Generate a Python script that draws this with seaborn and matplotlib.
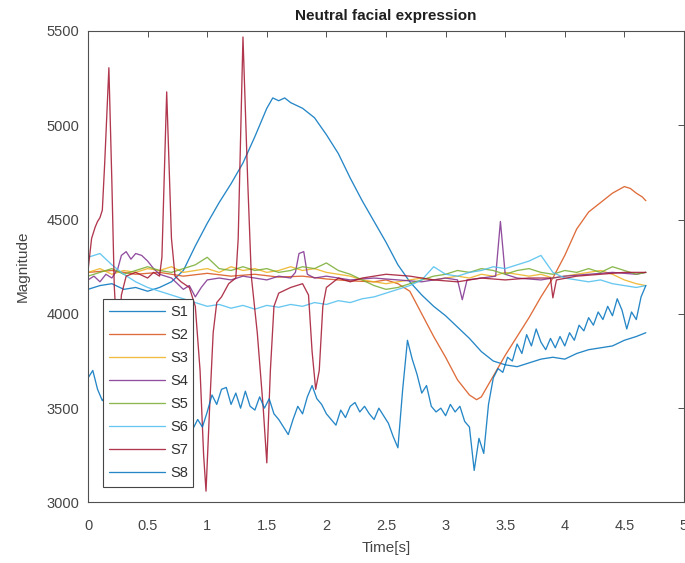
import numpy as np
import pandas as pd
import matplotlib
matplotlib.use("Agg")
import matplotlib.pyplot as plt
import seaborn as sns

# ---------------- data ----------------
series_names = ["S1", "S2", "S3", "S4", "S5", "S6", "S7", "S8"]
colors = ["#0072BD", "#D95319", "#EDB120", "#7E2F8E",
          "#77AC30", "#4DBEEE", "#A2142F", "#0072BD"]

s1_t = [0.0, 0.1, 0.2, 0.3, 0.4, 0.5, 0.6, 0.7, 0.8, 0.9, 1.0, 1.1, 1.2, 1.3,
        1.4, 1.5, 1.55, 1.6, 1.65, 1.7, 1.8, 1.9, 2.0, 2.1, 2.2, 2.3, 2.4, 2.5,
        2.6, 2.7, 2.8, 2.9, 3.0, 3.1, 3.2, 3.3, 3.4, 3.5, 3.6, 3.7, 3.8, 3.9,
        4.0, 4.1, 4.2, 4.3, 4.4, 4.5, 4.6, 4.68]
s1_v = [4130, 4150, 4160, 4130, 4140, 4120, 4140, 4170, 4230, 4360, 4480, 4590,
        4690, 4800, 4940, 5090, 5145, 5130, 5145, 5120, 5090, 5040, 4950, 4850,
        4720, 4600, 4490, 4380, 4260, 4170, 4100, 4040, 3990, 3930, 3870, 3800,
        3750, 3730, 3720, 3740, 3760, 3770, 3760, 3790, 3810, 3820, 3830, 3860,
        3880, 3900]

s2_t = [0.0, 0.2, 0.4, 0.6, 0.8, 1.0, 1.2, 1.4, 1.6, 1.8, 2.0, 2.2, 2.4, 2.5,
        2.6, 2.7, 2.8, 2.9, 3.0, 3.1, 3.2, 3.26, 3.3, 3.4, 3.5, 3.6, 3.7, 3.8,
        3.9, 4.0, 4.1, 4.2, 4.3, 4.4, 4.5, 4.55, 4.6, 4.65, 4.68]
s2_v = [4220, 4230, 4210, 4220, 4200, 4215, 4200, 4210, 4195, 4200, 4185, 4175,
        4170, 4180, 4160, 4120, 4000, 3880, 3770, 3650, 3570, 3545, 3560, 3670,
        3780, 3880, 3980, 4090, 4190, 4310, 4450, 4540, 4590, 4640, 4675, 4665,
        4640, 4620, 4600]

flat_t = [0.0, 0.1, 0.2, 0.3, 0.4, 0.5, 0.6, 0.7, 0.8, 0.9, 1.0, 1.1, 1.2, 1.3,
          1.4, 1.5, 1.6, 1.7, 1.8, 1.9, 2.0, 2.1, 2.2, 2.3, 2.4, 2.5, 2.6, 2.7,
          2.8, 2.9, 3.0, 3.1, 3.2, 3.3, 3.4, 3.5, 3.6, 3.7, 3.8, 3.9, 4.0, 4.1,
          4.2, 4.3, 4.4, 4.5, 4.6, 4.68]
s3_v = [4220, 4240, 4210, 4230, 4220, 4240, 4230, 4250, 4220, 4230, 4240, 4220,
        4250, 4230, 4240, 4220, 4230, 4250, 4230, 4240, 4220, 4210, 4200, 4180,
        4170, 4160, 4170, 4180, 4190, 4180, 4190, 4200, 4190, 4210, 4200, 4220,
        4210, 4200, 4210, 4190, 4200, 4210, 4220, 4230, 4210, 4180, 4160, 4150]
s5_v = [4200, 4220, 4240, 4210, 4230, 4250, 4230, 4220, 4240, 4260, 4300, 4240,
        4230, 4250, 4230, 4240, 4220, 4230, 4250, 4240, 4270, 4230, 4210, 4180,
        4150, 4130, 4140, 4160, 4180, 4200, 4210, 4230, 4220, 4240, 4230, 4210,
        4230, 4240, 4220, 4210, 4230, 4220, 4240, 4220, 4250, 4230, 4210, 4220]
s6_v = [4300, 4320, 4260, 4210, 4170, 4140, 4120, 4100, 4080, 4060, 4040, 4050,
        4030, 4045, 4025, 4045, 4035, 4050, 4040, 4060, 4050, 4070, 4060, 4080,
        4090, 4110, 4130, 4150, 4180, 4250, 4210, 4200, 4220, 4230, 4250, 4240,
        4260, 4280, 4310, 4220, 4190, 4180, 4170, 4180, 4160, 4150, 4140, 4150]

s4_t = [0.0, 0.05, 0.1, 0.15, 0.2, 0.25, 0.28, 0.32, 0.36, 0.4, 0.45, 0.5, 0.55,
        0.6, 0.7, 0.75, 0.8, 0.85, 0.9, 0.95, 1.0, 1.1, 1.2, 1.3, 1.4, 1.5, 1.6,
        1.7, 1.74, 1.77, 1.81, 1.84, 1.9, 2.0, 2.2, 2.4, 2.6, 2.8, 3.0, 3.1,
        3.14, 3.18, 3.3, 3.42, 3.46, 3.5, 3.6, 3.8, 4.0, 4.2, 4.4, 4.6, 4.68]
s4_v = [4180, 4200, 4170, 4210, 4190, 4240, 4310, 4330, 4290, 4320, 4310, 4280,
        4240, 4210, 4190, 4160, 4130, 4150, 4090, 4140, 4180, 4190, 4180, 4200,
        4190, 4180, 4200, 4190, 4220, 4320, 4330, 4210, 4190, 4200, 4180, 4190,
        4180, 4170, 4190, 4180, 4075, 4180, 4190, 4200, 4490, 4210, 4190, 4180,
        4200, 4210, 4220, 4210, 4220]

s7_t = [0.0, 0.03, 0.06, 0.08, 0.1, 0.12, 0.14, 0.175, 0.2, 0.22, 0.25, 0.28,
        0.32, 0.4, 0.5, 0.55, 0.6, 0.62, 0.66, 0.7, 0.73, 0.78, 0.85, 0.9, 0.94,
        0.97, 0.99, 1.02, 1.05, 1.08, 1.12, 1.18, 1.24, 1.26, 1.3, 1.34, 1.37,
        1.42, 1.47, 1.5, 1.53, 1.56, 1.6, 1.7, 1.8, 1.85, 1.88, 1.91, 1.94, 1.97,
        2.0, 2.1, 2.2, 2.3, 2.5, 2.7, 2.9, 3.1, 3.3, 3.5, 3.7, 3.88, 3.9, 3.93,
        4.1, 4.3, 4.5, 4.68]
s7_v = [4230, 4400, 4460, 4490, 4510, 4550, 4800, 5305, 4700, 4150, 3800, 4100,
        4200, 4220, 4190, 4220, 4200, 4300, 5177, 4400, 4200, 4170, 4140, 4040,
        3700, 3250, 3060, 3500, 3900, 4060, 4090, 4160, 4190, 4400, 5468, 4700,
        4200, 3900, 3500, 3210, 3700, 4040, 4110, 4140, 4160, 4100, 3800, 3600,
        3700, 4040, 4140, 4190, 4170, 4190, 4210, 4200, 4180, 4170, 4190, 4180,
        4190, 4190, 4085, 4180, 4200, 4210, 4220, 4220]

s8_t = np.round(np.arange(118) * 0.04, 2)
s8_v = [3660, 3700, 3600, 3540, 3580, 3500, 3540, 3470, 3520, 3450, 3490, 3430,
        3480, 3420, 3460, 3400, 3450, 3390, 3430, 3380, 3420, 3360, 3390, 3440,
        3400, 3480, 3570, 3520, 3600, 3610, 3520, 3580, 3500, 3590, 3510, 3490,
        3560, 3500, 3550, 3470, 3440, 3400, 3360, 3440, 3510, 3470, 3560, 3620,
        3550, 3520, 3470, 3440, 3410, 3490, 3450, 3510, 3530, 3480, 3510, 3470,
        3440, 3500, 3460, 3420, 3350, 3290, 3600, 3860, 3760, 3680, 3580, 3620,
        3510, 3480, 3500, 3460, 3520, 3480, 3510, 3430, 3400, 3170, 3340, 3260,
        3520, 3660, 3710, 3690, 3770, 3750, 3840, 3790, 3890, 3830, 3920, 3850,
        3810, 3870, 3820, 3880, 3830, 3900, 3860, 3940, 3910, 3980, 3940, 4010,
        3970, 4040, 3990, 4080, 4020, 3920, 4010, 3970, 4090, 4150]

x_ticks = [0, 0.5, 1, 1.5, 2, 2.5, 3, 3.5, 4, 4.5, 5]
x_tick_labels = ["0", "0.5", "1", "1.5", "2", "2.5", "3", "3.5", "4", "4.5", "5"]
y_ticks = [3000, 3500, 4000, 4500, 5000, 5500]
y_tick_labels = ["3000", "3500", "4000", "4500", "5000", "5500"]

# ---------------- build long table ----------------
times = [s1_t, s2_t, flat_t, s4_t, flat_t, flat_t, s7_t, list(s8_t)]
values = [s1_v, s2_v, s3_v, s4_v, s5_v, s6_v, s7_v, s8_v]
frames = []
for name, tt, vv in zip(series_names, times, values):
    frames.append(pd.DataFrame({"Time": tt, "Magnitude": vv, "series": name}))
df = pd.concat(frames, ignore_index=True)

# ---------------- plot ----------------
sns.set_style("white")
plt.rcParams["font.family"] = ["Liberation Sans", "DejaVu Sans"]

fig = plt.figure(figsize=(6.85, 5.63), dpi=100)
ax = fig.add_axes([0.1285, 0.1075, 0.870, 0.8375])

sns.lineplot(data=df, x="Time", y="Magnitude", hue="series",
             hue_order=series_names, palette=colors, estimator=None,
             sort=False, linewidth=0.95, alpha=0.85, ax=ax)

ax.set_xlim(0, 5)
ax.set_ylim(3000, 5500)
ax.set_xticks(x_ticks)
ax.set_xticklabels(x_tick_labels)
ax.set_yticks(y_ticks)
ax.set_yticklabels(y_tick_labels)
ax.tick_params(direction="in", length=4, width=0.7, colors="#505050",
               labelcolor="#454545", labelsize=10.5, top=True, right=True)
ax.tick_params(axis="x", pad=12)
ax.tick_params(axis="y", pad=6)
for sp in ax.spines.values():
    sp.set_color("#505050")
    sp.set_linewidth(0.8)

ax.set_xlabel("Time[s]", fontsize=11, color="#454545", labelpad=6)
ax.set_ylabel("Magnitude", fontsize=11, color="#454545", labelpad=12)
ax.set_title("Neutral facial expression", fontsize=11, fontweight="bold",
             color="#202020", pad=8)

leg = ax.legend(loc="lower left", bbox_to_anchor=(0.025, 0.033, 0.151, 0.392),
                mode="expand", borderaxespad=0, fontsize=10.5,
                handlelength=3.8, handletextpad=0.4, labelspacing=0.62,
                borderpad=0.45, fancybox=False, framealpha=1,
                edgecolor="#454545")
leg.get_frame().set_linewidth(0.8)
for line in leg.get_lines():
    line.set_alpha(0.85)
for txt in leg.get_texts():
    txt.set_color("#303030")

fig.savefig("out.png", dpi=100)
